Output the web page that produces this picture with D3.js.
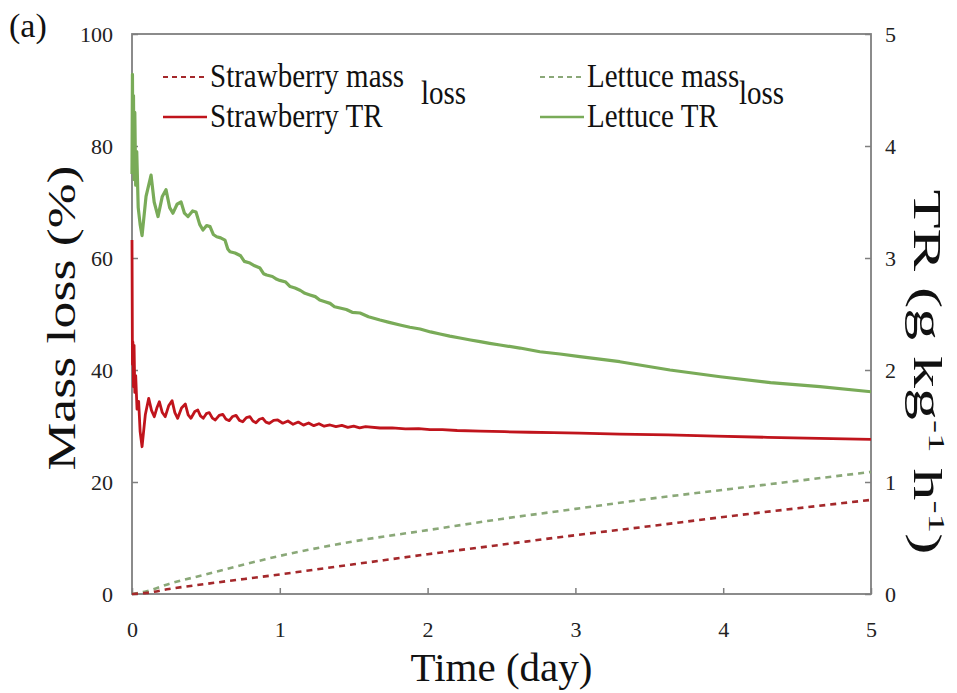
<!DOCTYPE html>
<html lang="en">
<head>
    <meta charset="UTF-8">
    <title>Mass loss and TR</title>
    <script src="https://d3js.org/d3.v7.min.js"></script>
    <style>
        body { margin: 0; background: #fff; }
    </style>
</head>
<body>
    <div id="chart"></div>
    <script>
        // Transpiration rate (g kg-1 h-1), right axis
        const strawberryTrTime = [0, 0.003, 0.006, 0.010, 0.014, 0.019, 0.025, 0.034, 0.045, 0.055, 0.068, 0.090, 0.113, 0.132, 0.151, 0.168, 0.185, 0.205, 0.225, 0.248, 0.271, 0.290, 0.309, 0.335, 0.361, 0.380, 0.399, 0.425, 0.445, 0.463, 0.482, 0.503, 0.523, 0.544, 0.564, 0.590, 0.614, 0.636, 0.658, 0.681, 0.704, 0.727, 0.749, 0.774, 0.798, 0.818, 0.839, 0.862, 0.884, 0.906, 0.929, 0.958, 0.986, 1.020, 1.055, 1.090, 1.125, 1.160, 1.195, 1.230, 1.265, 1.300, 1.340, 1.380, 1.420, 1.460, 1.500, 1.540, 1.580, 1.678, 1.760, 1.850, 1.940, 2.016, 2.100, 2.200, 2.355, 2.520, 2.690, 2.850, 3.030, 3.300, 3.627, 3.950, 4.300, 4.650, 5.000];
        const strawberryTr = [3.16, 2.05, 2.25, 1.85, 2.22, 1.80, 1.95, 1.65, 1.72, 1.45, 1.315, 1.60, 1.747, 1.64, 1.583, 1.66, 1.717, 1.62, 1.583, 1.68, 1.726, 1.62, 1.569, 1.66, 1.696, 1.60, 1.569, 1.63, 1.643, 1.59, 1.569, 1.61, 1.62, 1.57, 1.554, 1.595, 1.604, 1.56, 1.548, 1.585, 1.595, 1.55, 1.538, 1.575, 1.583, 1.545, 1.529, 1.56, 1.569, 1.535, 1.524, 1.55, 1.554, 1.525, 1.545, 1.515, 1.535, 1.508, 1.527, 1.503, 1.52, 1.498, 1.509, 1.494, 1.505, 1.488, 1.499, 1.484, 1.494, 1.482, 1.484, 1.474, 1.476, 1.468, 1.468, 1.46, 1.455, 1.449, 1.444, 1.440, 1.436, 1.428, 1.420, 1.410, 1.399, 1.390, 1.381];

        const lettuceTrTime = [0, 0.003, 0.006, 0.010, 0.014, 0.019, 0.025, 0.032, 0.042, 0.055, 0.068, 0.095, 0.129, 0.150, 0.176, 0.205, 0.230, 0.255, 0.277, 0.305, 0.332, 0.355, 0.379, 0.410, 0.433, 0.458, 0.480, 0.505, 0.528, 0.550, 0.573, 0.600, 0.629, 0.648, 0.663, 0.697, 0.735, 0.760, 0.798, 0.830, 0.866, 0.890, 0.911, 0.950, 0.980, 1.000, 1.040, 1.070, 1.103, 1.140, 1.170, 1.204, 1.240, 1.270, 1.306, 1.340, 1.370, 1.407, 1.450, 1.490, 1.543, 1.600, 1.678, 1.740, 1.813, 1.880, 1.949, 2.020, 2.084, 2.150, 2.219, 2.290, 2.355, 2.420, 2.490, 2.625, 2.760, 2.896, 3.030, 3.300, 3.640, 3.980, 4.320, 4.655, 5.000];
        const lettuceTr = [3.75, 4.64, 3.85, 4.45, 3.70, 4.30, 3.65, 3.95, 3.45, 3.30, 3.20, 3.55, 3.74, 3.50, 3.37, 3.55, 3.61, 3.45, 3.40, 3.48, 3.50, 3.40, 3.37, 3.42, 3.41, 3.30, 3.25, 3.29, 3.28, 3.21, 3.19, 3.18, 3.16, 3.08, 3.056, 3.045, 3.02, 2.97, 2.955, 2.93, 2.91, 2.86, 2.848, 2.835, 2.81, 2.80, 2.785, 2.745, 2.732, 2.71, 2.685, 2.67, 2.655, 2.625, 2.61, 2.595, 2.565, 2.554, 2.54, 2.515, 2.509, 2.475, 2.446, 2.425, 2.402, 2.382, 2.366, 2.34, 2.321, 2.302, 2.286, 2.268, 2.253, 2.238, 2.223, 2.196, 2.163, 2.143, 2.119, 2.074, 2.000, 1.940, 1.887, 1.851, 1.806];

        // Mass loss (%), left axis
        const massTime = [0, 0.1, 0.25, 0.5, 1, 1.5, 2, 2.5, 3, 3.5, 4, 4.5, 5];
        const strawberryMass = [0, 0.2, 0.9, 1.8, 3.5, 5.3, 7.1, 8.8, 10.5, 12.1, 13.75, 15.3, 16.8];
        const lettuceMass = [0, 0.5, 1.8, 3.5, 6.8, 9.4, 11.4, 13.4, 15.2, 17.0, 18.6, 20.2, 21.8];

        const xTicks = [0, 1, 2, 3, 4, 5];
        const leftTicks = [0, 20, 40, 60, 80, 100];
        const rightTicks = [0, 1, 2, 3, 4, 5];

        const width = 957, height = 693;
        const margin = { top: 34, right: 86, bottom: 99, left: 132 };
        const serif = "'Liberation Serif', 'Times New Roman', 'DejaVu Serif', serif";

        const svg = d3.select("#chart").append("svg")
            .attr("width", width)
            .attr("height", height)
            .style("font-family", serif);

        const x = d3.scaleLinear().domain([0, 5]).range([margin.left, width - margin.right]);
        const yLeft = d3.scaleLinear().domain([0, 100]).range([height - margin.bottom, margin.top]);
        const yRight = d3.scaleLinear().domain([0, 5]).range([height - margin.bottom, margin.top]);

        const axisColor = "#7f7f7f";
        const tickFont = 22;
        const fmt = d3.format("d");

        // x axis
        const gx = svg.append("g")
            .attr("transform", `translate(0,${height - margin.bottom})`)
            .call(d3.axisBottom(x).tickValues(xTicks).tickFormat(fmt).tickSizeInner(-6).tickSizeOuter(0).tickPadding(27));
        // left axis
        const gl = svg.append("g")
            .attr("transform", `translate(${margin.left},0)`)
            .call(d3.axisLeft(yLeft).tickValues(leftTicks).tickFormat(fmt).tickSizeInner(-6).tickSizeOuter(0).tickPadding(19));
        // right axis
        const gr = svg.append("g")
            .attr("transform", `translate(${width - margin.right},0)`)
            .call(d3.axisRight(yRight).tickValues(rightTicks).tickFormat(fmt).tickSizeInner(-6).tickSizeOuter(0).tickPadding(14));

        [gx, gl, gr].forEach(g => {
            g.attr("font-family", null).attr("font-size", null);
            g.select(".domain").remove();
            g.selectAll(".tick line").attr("stroke", axisColor).attr("stroke-width", 1.5);
            g.selectAll(".tick text")
                .attr("fill", "#222")
                .style("font-size", tickFont + "px")
                .style("font-family", serif);
        });

        // plot frame
        svg.append("rect")
            .attr("x", x(0))
            .attr("y", yLeft(100))
            .attr("width", x(5) - x(0))
            .attr("height", yLeft(0) - yLeft(100))
            .attr("fill", "none")
            .attr("stroke", axisColor)
            .attr("stroke-width", 1.8);

        const colors = {
            strawMass: "#a4282b",
            lettMass: "#8aa878",
            strawTr: "#c0141c",
            lettTr: "#79ab58"
        };

        // mass loss dashed lines
        const lineMass = d3.line().x(d => x(d[0])).y(d => yLeft(d[1])).curve(d3.curveMonotoneX);
        svg.append("path")
            .datum(d3.zip(massTime, lettuceMass))
            .attr("fill", "none")
            .attr("stroke", colors.lettMass)
            .attr("stroke-width", 2.6)
            .attr("stroke-dasharray", "6,5")
            .attr("d", lineMass);
        svg.append("path")
            .datum(d3.zip(massTime, strawberryMass))
            .attr("fill", "none")
            .attr("stroke", colors.strawMass)
            .attr("stroke-width", 2.6)
            .attr("stroke-dasharray", "6,5")
            .attr("d", lineMass);

        // TR solid lines
        const lineTr = d3.line().x(d => x(d[0])).y(d => yRight(d[1]));
        svg.append("path")
            .datum(d3.zip(lettuceTrTime, lettuceTr))
            .attr("fill", "none")
            .attr("stroke", colors.lettTr)
            .attr("stroke-width", 3.2)
            .attr("stroke-linejoin", "round")
            .attr("d", lineTr);
        svg.append("path")
            .datum(d3.zip(strawberryTrTime, strawberryTr))
            .attr("fill", "none")
            .attr("stroke", colors.strawTr)
            .attr("stroke-width", 2.8)
            .attr("stroke-linejoin", "round")
            .attr("d", lineTr);

        // legend
        const legend = [
            { label: "Strawberry mass", sub: "loss", color: colors.strawMass, dash: "5,4", x: 163, y: 77, subX: 421 },
            { label: "Lettuce mass", sub: "loss", color: colors.lettMass, dash: "5,4", x: 540, y: 77, subX: 739 },
            { label: "Strawberry TR", color: colors.strawTr, dash: null, x: 163, y: 117 },
            { label: "Lettuce TR", color: colors.lettTr, dash: null, x: 540, y: 117 }
        ];
        legend.forEach(d => {
            svg.append("line")
                .attr("x1", d.x).attr("x2", d.x + 44)
                .attr("y1", d.y).attr("y2", d.y)
                .attr("stroke", d.color)
                .attr("stroke-width", d.dash ? 2 : 2.6)
                .attr("stroke-dasharray", d.dash);
            svg.append("text")
                .attr("transform", `translate(${d.x + 47},${d.y + 10}) scale(1,1.15)`)
                .style("font-size", "29px")
                .attr("fill", "#111")
                .text(d.label);
            if (d.sub) {
                svg.append("text")
                    .attr("transform", `translate(${d.subX},${d.y + 27}) scale(1,1.15)`)
                    .style("font-size", "29px")
                    .attr("fill", "#111")
                    .text(d.sub);
            }
        });

        // axis titles
        svg.append("text")
            .attr("x", (x(0) + x(5)) / 2)
            .attr("y", 681)
            .attr("text-anchor", "middle")
            .style("font-size", "41px")
            .attr("fill", "#111")
            .text("Time (day)");

        svg.append("text")
            .attr("transform", "translate(75,318) rotate(-90)")
            .attr("text-anchor", "middle")
            .style("font-size", "41px")
            .attr("fill", "#111")
            .attr("textLength", 305)
            .attr("lengthAdjust", "spacingAndGlyphs")
            .text("Mass loss (%)");

        const tr = svg.append("text")
            .attr("transform", "translate(914,372) rotate(90)")
            .attr("text-anchor", "middle")
            .style("font-size", "39px")
            .attr("fill", "#111")
            .attr("textLength", 365)
            .attr("lengthAdjust", "spacingAndGlyphs");
        tr.append("tspan").text("TR (g kg");
        tr.append("tspan").attr("dy", -15).style("font-size", "24px").text("-1");
        tr.append("tspan").attr("dy", 15).text(" h");
        tr.append("tspan").attr("dy", -15).style("font-size", "24px").text("-1");
        tr.append("tspan").attr("dy", 15).text(")");

        svg.append("text")
            .attr("x", 9)
            .attr("y", 37)
            .style("font-size", "34px")
            .attr("fill", "#111")
            .text("(a)");
    </script>
</body>
</html>
